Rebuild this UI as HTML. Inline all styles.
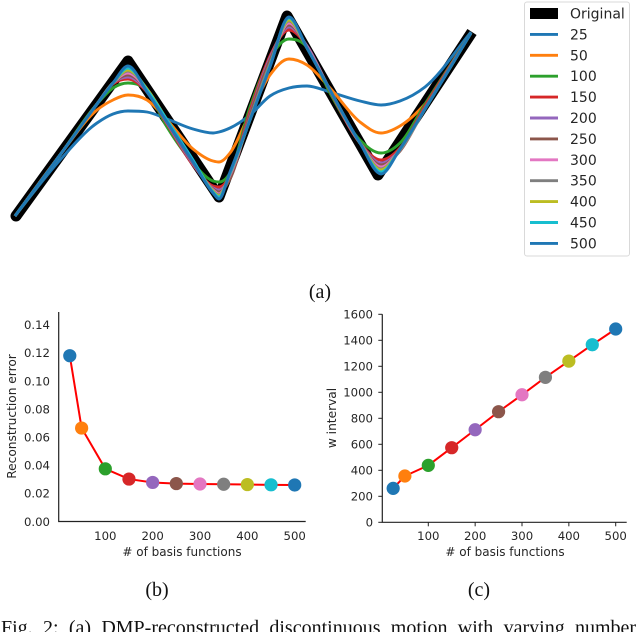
<!DOCTYPE html>
<html lang="en">
<head>
<meta charset="utf-8">
<title>DMP reconstruction figure</title>
<style>
html,body{margin:0;padding:0;background:#fff;width:640px;height:632px;overflow:hidden}
svg{display:block;position:absolute;left:0;top:0}
.dv{font-family:"DejaVu Sans",sans-serif;fill:#262626}
.se{font-family:"Liberation Serif",serif;fill:#111}
</style>
</head>
<body>
<svg id="fig" xmlns="http://www.w3.org/2000/svg" width="640" height="632" viewBox="0 0 640 632">
  <g id="motion" style="filter:blur(.35px)"></g>
  <g id="legend" style="filter:blur(.3px)"></g>
  <g id="chartB" style="filter:blur(.3px)"></g>
  <g id="chartC" style="filter:blur(.3px)"></g>
  <text class="se" x="320" y="298" font-size="20" text-anchor="middle">(a)</text>
  <text class="se" x="157" y="596" font-size="20" text-anchor="middle">(b)</text>
  <text class="se" x="479" y="596" font-size="20" text-anchor="middle">(c)</text>
  <text class="se" x="1" y="634" font-size="20" word-spacing="5.3">Fig. 2: (a) DMP-reconstructed discontinuous motion with varying number</text>
</svg>
<script>
// Motion chart data (horizontal position along the motion, height of the motion)
const originalT = [1, 113, 204, 272, 363, 457];
const originalH = [0, 155, 19, 200, 41, 184];
const sampleT = [0, 45, 82, 98, 113, 132, 152, 178, 198, 204, 215, 235, 255, 274, 292, 315, 345, 366, 385, 410, 456];
const h25  = [0, 56, 93, 102, 105, 104, 97, 87, 83, 84, 88, 101, 120, 128, 130, 124, 115, 111, 115, 129, 184];
const h50  = [0, 61, 106, 116, 121, 116, 96, 67, 55, 54, 63, 103, 141, 157, 151, 128, 94, 83, 90, 112, 183];
const h100 = [0, 61, 112, 128, 133, 125, 89, 53, 35, 34, 43, 109, 158, 177, 169, 123, 76, 63, 73, 112, 183];
const h150 = [0, 61, 112, 132, 137, 124, 92, 51, 30, 29, 40, 105, 160, 186, 170, 125, 73, 56, 68, 110, 183];
const h200 = [0, 61, 112, 133, 139, 125, 93, 52, 28, 26, 38, 102, 158, 189, 170, 126, 73, 53, 66, 108, 183];
const h250 = [0, 61, 112, 133, 141, 126, 94, 53, 27, 24, 37, 101, 156, 191, 169, 126, 73, 51, 65, 108, 183];
const h300 = [0, 61, 112, 133, 143, 126, 95, 54, 26, 22, 41, 97, 152, 193, 169, 126, 73, 49, 66, 107, 183];
const h350 = [0, 61, 112, 133, 145, 127, 96, 55, 25, 21, 42, 97, 152, 195, 168, 126, 73, 47, 66, 107, 183];
const h400 = [0, 61, 112, 133, 146, 127, 96, 55, 25, 20, 43, 96, 150, 196, 168, 126, 73, 46, 67, 107, 183];
const h450 = [0, 61, 112, 133, 148, 126, 96, 56, 24, 19, 43, 96, 150, 198, 168, 126, 73, 44, 67, 107, 183];
const h500 = [0, 61, 112, 133, 150, 124, 94, 54, 23, 17, 44, 96, 149, 199, 168, 126, 73, 42, 67, 107, 183];

// Shared categories and panel values
const basisCounts = [25, 50, 100, 150, 200, 250, 300, 350, 400, 450, 500];
const seriesLabels = ['25', '50', '100', '150', '200', '250', '300', '350', '400', '450', '500'];
const seriesColors = ['#1f77b4', '#ff7f0e', '#2ca02c', '#d62728', '#9467bd', '#8c564b', '#e377c2', '#7f7f7f', '#bcbd22', '#17becf', '#1f77b4'];
const errorValues = [0.118, 0.0665, 0.0375, 0.0302, 0.0278, 0.0270, 0.0267, 0.0265, 0.0263, 0.0261, 0.0260];
const intervalValues = [261, 356, 438, 574, 712, 851, 981, 1115, 1240, 1366, 1487];
const xTicks = [100, 200, 300, 400, 500];
const errorTicks = [0, 0.02, 0.04, 0.06, 0.08, 0.10, 0.12, 0.14];
const intervalTicks = [0, 200, 400, 600, 800, 1000, 1200, 1400, 1600];

const NS = 'http://www.w3.org/2000/svg';
function mk(parent, tag, attrs, txt) {
  const el = document.createElementNS(NS, tag);
  for (const k in attrs) el.setAttribute(k, attrs[k]);
  if (txt !== undefined) el.textContent = txt;
  parent.appendChild(el);
  return el;
}

// Motion axes
const motionX = t => 15 + t;
const motionY = h => 216 - h;
function smoothPath(ts, hs) {
  const xs = ts.map(motionX), ys = hs.map(motionY), n = xs.length;
  const dx = [], sl = [], m = [];
  for (let i = 0; i < n - 1; i++) { dx[i] = xs[i + 1] - xs[i]; sl[i] = (ys[i + 1] - ys[i]) / dx[i]; }
  m[0] = sl[0];
  m[n - 1] = sl[n - 2];
  for (let i = 1; i < n - 1; i++) {
    if (sl[i - 1] * sl[i] <= 0) { m[i] = 0; continue; }
    const p = (sl[i - 1] * dx[i] + sl[i] * dx[i - 1]) / (dx[i - 1] + dx[i]);
    m[i] = Math.sign(p) * Math.min(Math.abs(p), 3 * Math.abs(sl[i - 1]), 3 * Math.abs(sl[i]));
  }
  let d = 'M' + xs[0] + ' ' + ys[0];
  for (let i = 0; i < n - 1; i++) {
    const h = dx[i] / 3;
    d += 'C' + (xs[i] + h).toFixed(2) + ' ' + (ys[i] + m[i] * h).toFixed(2) + ' ' +
         (xs[i + 1] - h).toFixed(2) + ' ' + (ys[i + 1] - m[i + 1] * h).toFixed(2) + ' ' +
         xs[i + 1] + ' ' + ys[i + 1];
  }
  return d;
}
const motionG = document.getElementById('motion');
const origPath = mk(motionG, 'polyline', {
  points: originalT.map((t, i) => motionX(t) + ',' + motionY(originalH[i])).join(' '),
  fill: 'none', stroke: '#000', 'stroke-width': 11, 'stroke-linejoin': 'round', 'stroke-linecap': 'butt'
});


const origStart = mk(motionG, 'circle', {cx: motionX(originalT[0]), cy: motionY(originalH[0]), r: 5.5, fill: '#000'});


const motionSeries = [h25, h50, h100, h150, h200, h250, h300, h350, h400, h450, h500];
motionSeries.forEach((hs, i) => {
  const line = mk(motionG, 'path', {
    d: smoothPath(sampleT, hs), fill: 'none', stroke: seriesColors[i], 'stroke-width': 2.9, 'stroke-linejoin': 'round'
  });
  
  
});

// Legend
const legendG = document.getElementById('legend');
const legendBox = mk(legendG, 'rect', {x: 524.5, y: 2, width: 105, height: 254, rx: 2.5, fill: '#fff', stroke: '#d9d9d9', 'stroke-width': 1});


const legendRow = i => 13.5 + i * 20.9;
const origHandle = mk(legendG, 'rect', {x: 530, y: legendRow(0) - 5.5, width: 28, height: 11, fill: '#000'});


const origLabel = mk(legendG, 'text', {x: 570, y: legendRow(0) + 5, 'font-size': 14, class: 'dv'}, 'Original');


seriesLabels.forEach((s, i) => {
  const y = legendRow(i + 1);
  const handle = mk(legendG, 'line', {x1: 530, x2: 558, y1: y, y2: y, stroke: seriesColors[i], 'stroke-width': 2.9});
  
  
  const label = mk(legendG, 'text', {x: 570, y: y + 5, 'font-size': 14, class: 'dv'}, s);
  
  
});

// Panel drawing
function drawPanel(g, o) {
  const spine = mk(g, 'path', {
    d: 'M' + o.x0 + ' ' + o.top + 'V' + o.y0 + 'H' + o.right, fill: 'none', stroke: '#222', 'stroke-width': 1.2
  });
  
  
  o.yTicks.forEach(v => {
    const y = o.y(v);
    if (o.ticks) {
      const t = mk(g, 'line', {x1: o.x0 - 4, x2: o.x0, y1: y, y2: y, stroke: '#222', 'stroke-width': 1});
      
      
    }
    const l = mk(g, 'text', {x: o.ylabRight, y: y + 4.3, 'font-size': 11.7, 'text-anchor': 'end', class: 'dv'}, o.fmt(v));
    
    
  });
  xTicks.forEach(v => {
    const x = o.x(v);
    if (o.ticks) {
      const t = mk(g, 'line', {x1: x, x2: x, y1: o.y0, y2: o.y0 + 4, stroke: '#222', 'stroke-width': 1});
      
      
    }
    const l = mk(g, 'text', {x: x, y: 540, 'font-size': 11.7, 'text-anchor': 'middle', class: 'dv'}, String(v));
    
    
  });
  const xt = mk(g, 'text', {x: o.xlabX, y: 556, 'font-size': 12, 'text-anchor': 'middle', class: 'dv'}, '# of basis functions');
  
  
  const yt = mk(g, 'text', {
    x: 0, y: 0, 'font-size': 12.2, 'text-anchor': 'middle', class: 'dv',
    transform: 'translate(' + o.ylabX + ' ' + o.ylabY + ') rotate(-90)'
  }, o.title);
  
  
  const conn = mk(g, 'polyline', {
    points: basisCounts.map((b, i) => o.x(b) + ',' + o.y(o.values[i])).join(' '),
    fill: 'none', stroke: '#f00', 'stroke-width': 2
  });
  
  
  basisCounts.forEach((b, i) => {
    const c = mk(g, 'circle', {cx: o.x(b), cy: o.y(o.values[i]), r: 6.6, fill: seriesColors[i]});
    
    
  });
}

drawPanel(document.getElementById('chartB'), {
  x0: 58.7, y0: 521.5, top: 312, right: 305.7, ticks: false, ylabRight: 50, xlabX: 182, ylabX: 16, ylabY: 416.5,
  x: b => 105.3 + (b - 100) * 0.4735,
  y: v => 521.5 - v * 1405,
  yTicks: errorTicks, values: errorValues, fmt: v => v.toFixed(2), title: 'Reconstruction error'
});
drawPanel(document.getElementById('chartC'), {
  x0: 382.3, y0: 522.3, top: 314.3, right: 626.7, ticks: true, ylabRight: 373, xlabX: 505, ylabX: 336, ylabY: 418,
  x: b => 428.3 + (b - 100) * 0.4685,
  y: v => 522.3 - v * 0.13,
  yTicks: intervalTicks, values: intervalValues, fmt: v => String(v), title: 'w interval'
});
</script>
</body>
</html>
